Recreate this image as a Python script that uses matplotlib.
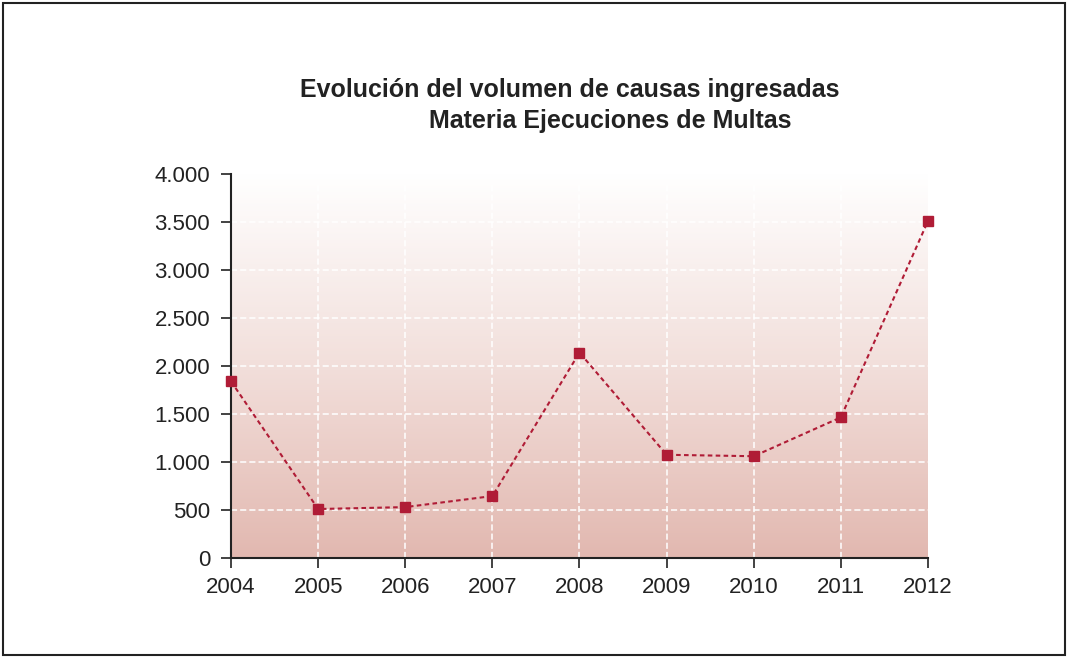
import matplotlib

matplotlib.use("Agg")
import matplotlib.pyplot as plt
import numpy as np
from matplotlib.colors import LinearSegmentedColormap
from matplotlib.patches import Rectangle

years = [2004, 2005, 2006, 2007, 2008, 2009, 2010, 2011, 2012]
causas = [1840, 510, 530, 645, 2140, 1075, 1060, 1465, 3510]
y_ticks = [0, 500, 1000, 1500, 2000, 2500, 3000, 3500, 4000]
y_labels = ["0", "500", "1.000", "1.500", "2.000", "2.500", "3.000", "3.500", "4.000"]
title_1 = "Evolución del volumen de causas ingresadas"
title_2 = "Materia Ejecuciones de Multas"

plt.rcParams["font.family"] = ["Liberation Sans", "DejaVu Sans"]

fig = plt.figure(figsize=(10.68, 6.58), dpi=100)
ax = fig.add_axes([0.2163, 0.152, 0.6526, 0.5836])

# vertical gradient background
cmap = LinearSegmentedColormap.from_list("bg", ["#e2b8b0", "#f2dfdb", "#ffffff"])
grad = np.linspace(0, 1, 256).reshape(-1, 1)
ax.imshow(grad, cmap=cmap, origin="lower", aspect="auto",
          extent=[0, 1, 0, 1], transform=ax.transAxes, zorder=0)

for y in y_ticks[1:-1]:
    ax.axhline(y, color="white", linestyle=(0, (4, 2)), linewidth=1.1, zorder=1)
for x in years[1:-1]:
    ax.plot([x, x], [0, 3900], color="white", linestyle=(0, (4, 2)), linewidth=1.1, zorder=1)

ax.plot(years, causas, color="#b01c36", linestyle=(0, (2.2, 1.6)), linewidth=1.5,
        marker="s", markersize=6.5, zorder=3, clip_on=False)

ax.set_xlim(2004, 2012)
ax.set_ylim(0, 4000)
ax.set_xticks(years)
ax.set_xticklabels([str(y) for y in years])
ax.set_yticks(y_ticks)
ax.set_yticklabels(y_labels)
ax.tick_params(labelsize=16, colors="#222222", length=7, width=1.2, direction="out")
ax.tick_params(axis="x", pad=7)
ax.tick_params(axis="y", pad=8)

ax.spines["top"].set_visible(False)
ax.spines["right"].set_visible(False)
for side in ("left", "bottom"):
    ax.spines[side].set_color("#222222")
    ax.spines[side].set_linewidth(1.5)

fig.text(570 / 1068, 1 - 90 / 658, title_1, ha="center", va="center",
         fontsize=18, fontweight="bold", color="#222222")
fig.text(610 / 1068, 1 - 121 / 658, title_2, ha="center", va="center",
         fontsize=18, fontweight="bold", color="#222222")

fig.patches.append(Rectangle((3 / 1068, 3 / 658), 1062 / 1068, 652 / 658,
                             transform=fig.transFigure, fill=False,
                             edgecolor="#222222", linewidth=1.5))

fig.savefig("out.png", dpi=100)
